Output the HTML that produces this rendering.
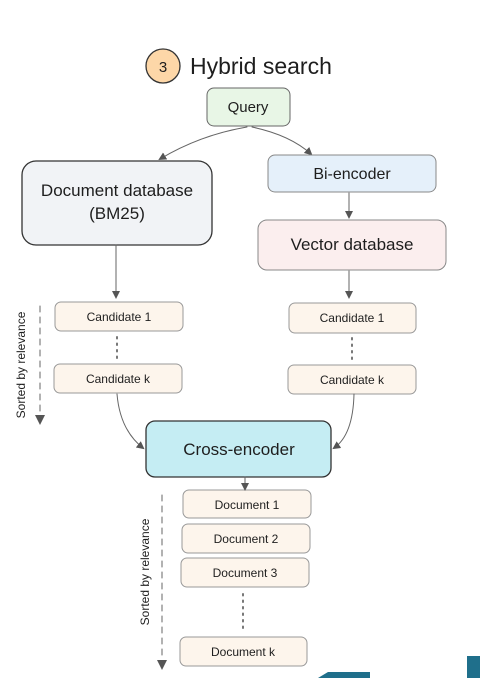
<!DOCTYPE html>
<html><head><meta charset="utf-8"><style>
body{margin:0;background:#fff;}
svg text{font-family:"Comic Sans MS","Liberation Sans",sans-serif;fill:#1e1e1e;}
</style></head><body>
<svg width="480" height="678" viewBox="0 0 480 678" xmlns="http://www.w3.org/2000/svg">
<defs><marker id="a" markerWidth="8" markerHeight="8" refX="6" refY="4" orient="auto" markerUnits="userSpaceOnUse"><path d="M0,0 L8,4 L0,8 z" fill="#555"/></marker></defs>
<g stroke-linecap="round">
<circle cx="163" cy="66" r="17" fill="#fdd7a8" stroke="#333" stroke-width="1.3"/>
<text x="163" y="72" font-size="15" text-anchor="middle">3</text>
<text x="190" y="74" font-size="23">Hybrid search</text>

<rect x="207" y="88" width="83" height="38" rx="7" fill="#e8f6e6" stroke="#666"/>
<text x="248" y="112" font-size="15" text-anchor="middle">Query</text>

<path d="M247,127 Q200,135 160,159" fill="none" stroke="#666" marker-end="url(#a)"/>
<path d="M252,127 Q290,135 311,154" fill="none" stroke="#666" marker-end="url(#a)"/>

<rect x="22" y="161" width="190" height="84" rx="14" fill="#f1f3f6" stroke="#333" stroke-width="1.3"/>
<text x="117" y="196" font-size="17" text-anchor="middle">Document database</text>
<text x="117" y="219" font-size="17" text-anchor="middle">(BM25)</text>

<rect x="268" y="155" width="168" height="37" rx="7" fill="#e5f0fa" stroke="#888"/>
<text x="352" y="179" font-size="16" text-anchor="middle">Bi-encoder</text>
<path d="M349,193 L349,217" stroke="#666" marker-end="url(#a)"/>
<rect x="258" y="220" width="188" height="50" rx="9" fill="#fbeeee" stroke="#888"/>
<text x="352" y="250" font-size="17" text-anchor="middle">Vector database</text>

<path d="M116,245 L116,297" stroke="#666" marker-end="url(#a)"/>
<path d="M349,271 L349,297" stroke="#666" marker-end="url(#a)"/>

<g fill="#fdf5ec" stroke="#999">
<rect x="55" y="302" width="128" height="29" rx="6"/>
<rect x="54" y="364" width="128" height="29" rx="6"/>
<rect x="289" y="303" width="127" height="30" rx="6"/>
<rect x="288" y="365" width="128" height="29" rx="6"/>
<rect x="183" y="490" width="128" height="28" rx="6"/>
<rect x="182" y="524" width="128" height="29" rx="6"/>
<rect x="181" y="558" width="128" height="29" rx="6"/>
<rect x="180" y="637" width="127" height="29" rx="6"/>
</g>
<g font-size="12" text-anchor="middle">
<text x="119" y="321">Candidate 1</text>
<text x="118" y="383">Candidate k</text>
<text x="352" y="322">Candidate 1</text>
<text x="352" y="384">Candidate k</text>
<text x="247" y="509">Document 1</text>
<text x="246" y="543">Document 2</text>
<text x="245" y="577">Document 3</text>
<text x="243" y="656">Document k</text>
</g>
<g stroke="#777" stroke-width="2" stroke-dasharray="1.5 5">
<path d="M117,337 L117,360"/><path d="M352,338 L352,361"/><path d="M243,594 L243,632"/>
</g>
<g stroke="#666" stroke-dasharray="6 5">
<path d="M40,306 L40,416"/><path d="M162,495 L162,660"/>
</g>
<path d="M35,415 L45,415 L40,425 z" fill="#555"/>
<path d="M157,660 L167,660 L162,670 z" fill="#555"/>
<text transform="translate(25,365) rotate(-90)" font-size="12" text-anchor="middle">Sorted by relevance</text>
<text transform="translate(149,572) rotate(-90)" font-size="12" text-anchor="middle">Sorted by relevance</text>

<path d="M117,394 Q120,430 143,448" fill="none" stroke="#666" marker-end="url(#a)"/>
<path d="M354,394 Q353,435 334,448" fill="none" stroke="#666" marker-end="url(#a)"/>

<rect x="146" y="421" width="185" height="56" rx="9" fill="#c5edf3" stroke="#333" stroke-width="1.3"/>
<text x="239" y="455" font-size="17" text-anchor="middle">Cross-encoder</text>
<path d="M245,477 L245,489" stroke="#666" marker-end="url(#a)"/>
</g>
<path d="M318,678 L328,672 L370,672 L370,678 z" fill="#1f6f8b"/>
<rect x="467" y="656" width="13" height="22" fill="#1f6f8b"/>
</svg>
</body></html>
